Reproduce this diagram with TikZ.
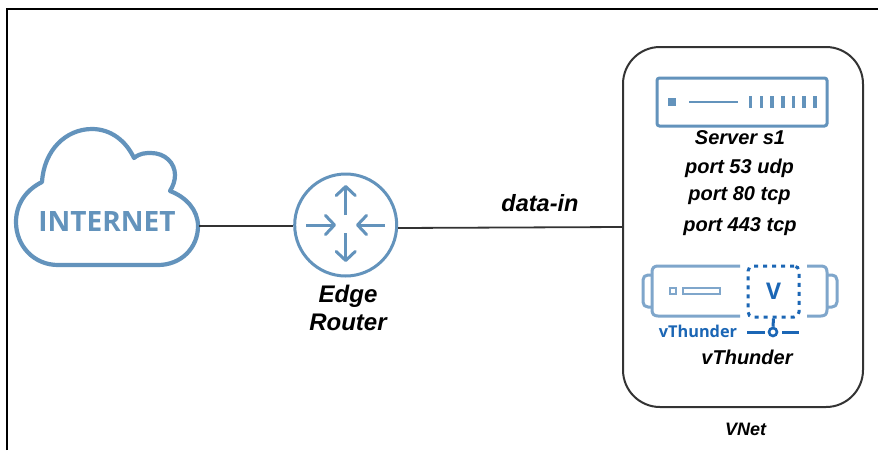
\documentclass[tikz,border=0pt]{standalone}
\usepackage{fontspec}
\setmainfont{Liberation Sans}
\newfontfamily\iconfont{Open Sans}
\usetikzlibrary{arrows.meta}
\definecolor{steel}{HTML}{6393BC}
\definecolor{vblue}{HTML}{1B66B5}
\definecolor{vsteel}{HTML}{7FA6CB}
\definecolor{wire}{HTML}{333333}
\tikzset{
  frame/.style={line width=2pt,black,line cap=butt},
  iconline/.style={draw=steel,line width=2.6pt,line join=round},
  chevron/.style={iconline,line width=3pt,-{Straight Barb[length=9pt,width=19pt,line width=3pt,round]},shorten >=0pt},
  link/.style={draw=wire,line width=1.8pt},
  label/.style={font=\bfseries\itshape\fontsize{20}{24}\selectfont,text=black,inner sep=0pt,anchor=center,align=center},
  vline/.style={draw=vsteel,line width=3pt,line join=round},
  vsolid/.style={draw=vblue,line width=3pt},
}
\begin{document}
\begin{tikzpicture}[x=1pt,y=-1pt]
\useasboundingbox (0,0) rectangle (878,450);
\fill[white] (0,0) rectangle (878,450);
\coordinate (fbl) at (7,450);
\coordinate (ftl) at (7,9);
\coordinate (ftr) at (878,9);
\draw[frame] (fbl) -- (ftl) -- (ftr);
% cloud
\draw[draw=steel,line width=4.2pt,line join=round]
  (42,182) .. controls (44,150) and (66,129) .. (92,129)
  .. controls (111,129) and (126,141) .. (134,158)
  .. controls (140,153) and (146,153) .. (151,153)
  .. controls (165,153) and (175,163) .. (175,175)
  .. controls (175,181) and (173,186) .. (170,191)
  .. controls (186,197) and (198,210) .. (198,226)
  .. controls (198,248) and (181,265) .. (158,265)
  -- (58,265)
  .. controls (34,265) and (16,246) .. (16,222)
  .. controls (16,204) and (26,190) .. (42,182) -- cycle;
\node[inner sep=0pt,text=steel,font=\iconfont\bfseries\fontsize{28}{30}\selectfont] (inet) at (107,222) {INTERNET};
\coordinate (cloudport) at (199,226);
% router
\node[circle,draw=steel,line width=3pt,minimum size=102pt,inner sep=0pt] (router) at (345.7,225) {};
\coordinate (ru0) at (345.7,215); \coordinate (ru1) at (345.7,185);
\coordinate (rd0) at (345.7,233); \coordinate (rd1) at (345.7,262);
\coordinate (rl0) at (306,225); \coordinate (rl1) at (336,225);
\coordinate (rr0) at (385,225); \coordinate (rr1) at (356,225);
\draw[chevron] (ru0) -- (ru1);
\draw[chevron] (rd0) -- (rd1);
\draw[chevron] (rl0) -- (rl1);
\draw[chevron] (rr0) -- (rr1);
\node[label,font=\bfseries\itshape\fontsize{24}{28}\selectfont] (rlabel) at (348,308) {Edge\\Router};
% VNet
\node[draw=wire,line width=2pt,rounded corners=37pt,minimum width=240pt,minimum height=360pt,inner sep=0pt] (vnet) at (743,227) {};
\coordinate (vnetport) at (623,227);
\draw[link] (cloudport) -- (router.west |- cloudport);
\draw[link] (router.east) ++(0,3) coordinate (rport) -- (vnetport);
\node[label,font=\bfseries\itshape\fontsize{23.5}{28}\selectfont] (datain) at (540,203) {data-in};
% server
\node[draw=steel,line width=3pt,rounded corners=2.5pt,minimum width=170pt,minimum height=48pt,inner sep=0pt] (server) at (742,102) {};
\fill[steel] (668,98) rectangle (676,106);
\draw[iconline] (689,102) -- (738,102);
\foreach \x in {750.3,761.3,772,782.7,793.3,804,814.7}
  \fill[steel] (\x-1.8,96) rectangle (\x+1.8,108);
\node[label] (s1) at (740,138) {Server s1};
\node[label] (p53) at (739.5,168) {port 53 udp};
\node[label] (p80) at (739.5,195.5) {port 80 tcp};
\node[label] (p443) at (740,226.5) {port 443 tcp};
% vThunder
\draw[vline] (740,266) -- (658,266) .. controls (654,266) and (652,268) .. (652,272)
  -- (652,310) .. controls (652,314) and (654,316) .. (658,316) -- (740,316);
\draw[vline] (652,275) -- (648,275) .. controls (645,275) and (643,277) .. (643,280)
  -- (643,302) .. controls (643,305) and (645,307) .. (648,307) -- (652,307);
\draw[vline] (807,266) -- (821,266) .. controls (825,266) and (827,268) .. (827,272)
  -- (827,310) .. controls (827,314) and (825,316) .. (821,316) -- (807,316);
\draw[vline] (827,275) -- (832,275) .. controls (835,275) and (837,277) .. (837,280)
  -- (837,302) .. controls (837,305) and (835,307) .. (832,307) -- (827,307);
\draw[vsteel,line width=2.2pt] (670,288) rectangle (676,294);
\draw[vsteel,line width=2.2pt] (683,288) rectangle (720,294);
\node[draw=vblue,line width=3pt,dash pattern=on 4pt off 5pt,rounded corners=5pt,minimum width=51pt,minimum height=51pt,inner sep=0pt,text=vblue,font=\iconfont\bfseries\fontsize{23}{26}\selectfont] (vbox) at (773.5,291.5) {V};
\node[circle,draw=vblue,line width=2.6pt,minimum size=8pt,inner sep=0pt] (tap) at (773,332) {};
\coordinate (tl) at (747,332); \coordinate (tr) at (799,332);
\draw[vsolid] (vbox.south) -- (tap.north);
\draw[vsolid,shorten >=3pt] (tl) -- (tap.west);
\draw[vsolid,shorten <=4pt] (tap.east) -- (tr);
\node[inner sep=0pt,text=vblue,font=\iconfont\bfseries\fontsize{16.3}{18}\selectfont] (vlogo) at (698,331) {vThunder};
\node[label] (vlabel) at (747,357) {vThunder};
\node[label,font=\bfseries\itshape\fontsize{18}{20}\selectfont] (vnetlabel) at (745.5,429) {VNet};
\end{tikzpicture}
\end{document}
